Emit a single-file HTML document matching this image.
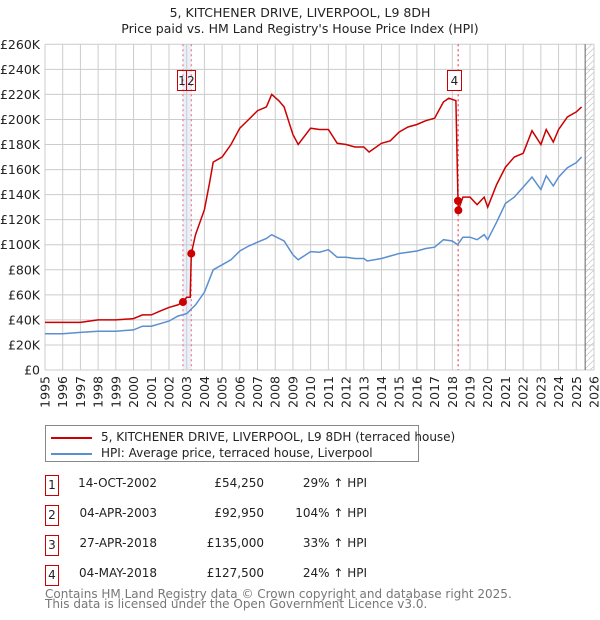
<!DOCTYPE html>
<html><head><meta charset="utf-8"><style>
body{margin:0;background:#fff;font-family:"DejaVu Sans","Liberation Sans",sans-serif;}
#wrap{position:relative;width:600px;height:620px;overflow:hidden}
svg text{font-family:"DejaVu Sans","Liberation Sans",sans-serif}
</style></head><body><div id="wrap">
<svg id="svg" width="600" height="620"></svg>
</div>
<script>
const hpiYears=[1995,1996,1997,1998,1999,2000,2000.5,2001,2001.5,2002,2002.5,2003,2003.5,2004,2004.5,2005,2005.5,2006,2006.5,2007,2007.5,2007.8,2008.5,2009,2009.3,2010,2010.5,2011,2011.5,2012,2012.5,2013,2013.2,2014,2014.5,2015,2016,2016.5,2017,2017.5,2018,2018.3,2018.6,2019,2019.4,2019.8,2020,2020.5,2021,2021.5,2022,2022.5,2023,2023.3,2023.7,2024,2024.5,2025,2025.3];
const hpiValues=[29,29,30,31,31,32,35,35,37,39,43,45,52,62,80,84,88,95,99,102,105,108,103,92,88,94.5,94,96,90,90,89,89,87,89,91,93,95,97,98,104,103,100,106,106,104,108,104,118,133,138,146,154,144,155,147,154,161.5,165.5,170];
const priceYears=[1995,1996,1997,1998,1999,2000,2000.5,2001,2001.5,2002,2002.5,2002.79,2003,2003.2,2003.26,2003.5,2004,2004.3,2004.5,2005,2005.5,2006,2006.5,2007,2007.5,2007.8,2008.2,2008.5,2009,2009.3,2010,2010.5,2011,2011.5,2012,2012.5,2013,2013.3,2014,2014.5,2015,2015.5,2016,2016.5,2017,2017.5,2017.8,2018.2,2018.32,2018.34,2018.6,2019,2019.4,2019.8,2020,2020.5,2021,2021.5,2022,2022.5,2023,2023.3,2023.7,2024,2024.5,2025,2025.3];
const priceValues=[38,38,38,40,40,41,44,44,47,50,52,54.25,58,58,92.95,108,128,150,166,170,180,193,200,207,210,220,215,210,188,180,193,192,192,181,180,178,178,174,181,183,190,194,196,199,201,214,217,215,135,127.5,138,138,132,138,130,148,162,170,173,191,180,192,182,192,202,206,210];
const saleIds=["1","2","3","4"];
const saleYears=[2002.79,2003.26,2018.32,2018.34];
const saleValues=[54.25,92.95,135,127.5];
const yTicks=[0,20,40,60,80,100,120,140,160,180,200,220,240,260];
const xTicks=[1995,1996,1997,1998,1999,2000,2001,2002,2003,2004,2005,2006,2007,2008,2009,2010,2011,2012,2013,2014,2015,2016,2017,2018,2019,2020,2021,2022,2023,2024,2025,2026];
const X0=45,X1=594,Y0=370,Y1=44.3;
const xs=y=>X0+(y-1995)*(X1-X0)/31;
const ys=v=>Y0-(v/260)*(Y0-Y1);
const svg=document.getElementById('svg');const NS='http://www.w3.org/2000/svg';
function mk(t,a,p){const e=document.createElementNS(NS,t);for(const k in a)e.setAttribute(k,a[k]);(p||svg).appendChild(e);return e;}
function txt(s,a){const e=mk('text',a);e.textContent=s;return e;}
let t=txt('5, KITCHENER DRIVE, LIVERPOOL, L9 8DH',{x:300,y:17,'text-anchor':'middle','font-size':12.5,fill:'#222'});

t=txt("Price paid vs. HM Land Registry's House Price Index (HPI)",{x:300,y:33,'text-anchor':'middle','font-size':12.5,fill:'#222'});

let d=mk('rect',{x:xs(saleYears[0]),y:Y1,width:xs(saleYears[1])-xs(saleYears[0]),height:Y0-Y1,fill:'#e8f0fa'});

const g=mk('g',{});
xTicks.forEach(y=>mk('line',{x1:xs(y),x2:xs(y),y1:Y1,y2:Y0,stroke:'#ccc','stroke-width':1},g));
yTicks.forEach(v=>mk('line',{x1:X0,x2:X1,y1:ys(v),y2:ys(v),stroke:'#ccc','stroke-width':1},g));
const defs=mk('defs',{});const pat=mk('pattern',{id:'h',width:6,height:6,patternUnits:'userSpaceOnUse'},defs);
mk('path',{d:'M0,6 L6,0',stroke:'#ccc','stroke-width':0.8},pat);
d=mk('rect',{x:xs(2025.5),y:Y1,width:X1-xs(2025.5),height:Y0-Y1,fill:'url(#h)'});

d=mk('line',{x1:xs(2025.5),x2:xs(2025.5),y1:Y1,y2:Y0,stroke:'#666','stroke-width':1});

yTicks.forEach(v=>{const e=txt(v==0?'£0':'£'+v+'K',{x:40,y:ys(v)+4.5,'text-anchor':'end','font-size':12.5,fill:'#222'});
});
xTicks.forEach(y=>{const x=xs(y)+4.5;const e=txt(String(y),{x:x,y:376,'text-anchor':'end','font-size':12.5,fill:'#222',transform:'rotate(-90 '+x+' 376)'});
});
saleYears.forEach(y=>{const e=mk('line',{x1:xs(y),x2:xs(y),y1:Y1,y2:Y0,stroke:'#f06070','stroke-width':1,'stroke-dasharray':'2,3'});
});
function path(xa,va){return xa.map((x,i)=>(i?'L':'M')+xs(x).toFixed(1)+','+ys(va[i]).toFixed(1)).join('');}
d=mk('path',{d:path(hpiYears,hpiValues),fill:'none',stroke:'#5b8fd0','stroke-width':1.5});

d=mk('path',{d:path(priceYears,priceValues),fill:'none',stroke:'#cc0000','stroke-width':1.5});

saleYears.forEach((y,i)=>{const e=mk('circle',{cx:xs(y),cy:ys(saleValues[i]),r:4,fill:'#cc0000'});
});
const boxX=[177.5,186.5,null,447.5];
saleIds.forEach((id,i)=>{if(boxX[i]===null)return;const gg=mk('g',{});

mk('rect',{x:boxX[i],y:70.5,width:i==3?14:9,height:20,fill:i==3?'#fff':'none',stroke:'#cc0000','stroke-width':1},gg);
const e=mk('text',{x:boxX[i]+(i==3?7:4.5),y:85,'text-anchor':'middle','font-size':12,fill:'#222'},gg);e.textContent=id;});
</script>
<div style="position:absolute;left:45px;top:425px;width:372px;height:35px;border:1px solid #888;font-size:12px;color:#222">
<div style="position:absolute;left:5px;top:4px;white-space:nowrap"><span style="display:inline-block;width:41px;height:2px;background:#cc0000;vertical-align:middle;margin-right:9px"></span>5, KITCHENER DRIVE, LIVERPOOL, L9 8DH (terraced house)</div>
<div style="position:absolute;left:5px;top:20px;white-space:nowrap"><span style="display:inline-block;width:41px;height:2px;background:#5b8fd0;vertical-align:middle;margin-right:9px"></span>HPI: Average price, terraced house, Liverpool</div>
</div>
<div style="position:absolute;left:0;top:0;font-size:12px;color:#222">
<div>
<div style="position:absolute;left:45px;top:475px;width:12px;height:19px;border:1px solid #cc0000;text-align:center;line-height:19px">1</div>
<div style="position:absolute;left:57px;width:100px;top:476px;text-align:right">14-OCT-2002</div>
<div style="position:absolute;left:164px;width:100px;top:476px;text-align:right">£54,250</div>
<div style="position:absolute;left:267px;width:100px;top:476px;text-align:right">29% ↑ HPI</div></div>
<div>
<div style="position:absolute;left:45px;top:505px;width:12px;height:19px;border:1px solid #cc0000;text-align:center;line-height:19px">2</div>
<div style="position:absolute;left:57px;width:100px;top:506px;text-align:right">04-APR-2003</div>
<div style="position:absolute;left:164px;width:100px;top:506px;text-align:right">£92,950</div>
<div style="position:absolute;left:267px;width:100px;top:506px;text-align:right">104% ↑ HPI</div></div>
<div>
<div style="position:absolute;left:45px;top:535px;width:12px;height:19px;border:1px solid #cc0000;text-align:center;line-height:19px">3</div>
<div style="position:absolute;left:57px;width:100px;top:536px;text-align:right">27-APR-2018</div>
<div style="position:absolute;left:164px;width:100px;top:536px;text-align:right">£135,000</div>
<div style="position:absolute;left:267px;width:100px;top:536px;text-align:right">33% ↑ HPI</div></div>
<div>
<div style="position:absolute;left:45px;top:565px;width:12px;height:19px;border:1px solid #cc0000;text-align:center;line-height:19px">4</div>
<div style="position:absolute;left:57px;width:100px;top:566px;text-align:right">04-MAY-2018</div>
<div style="position:absolute;left:164px;width:100px;top:566px;text-align:right">£127,500</div>
<div style="position:absolute;left:267px;width:100px;top:566px;text-align:right">24% ↑ HPI</div></div>
</div>
<div style="position:absolute;left:45px;top:589px;font-size:12px;line-height:10px;color:#777;white-space:nowrap">Contains HM Land Registry data © Crown copyright and database right 2025.<br>This data is licensed under the Open Government Licence v3.0.</div>
</body></html>
